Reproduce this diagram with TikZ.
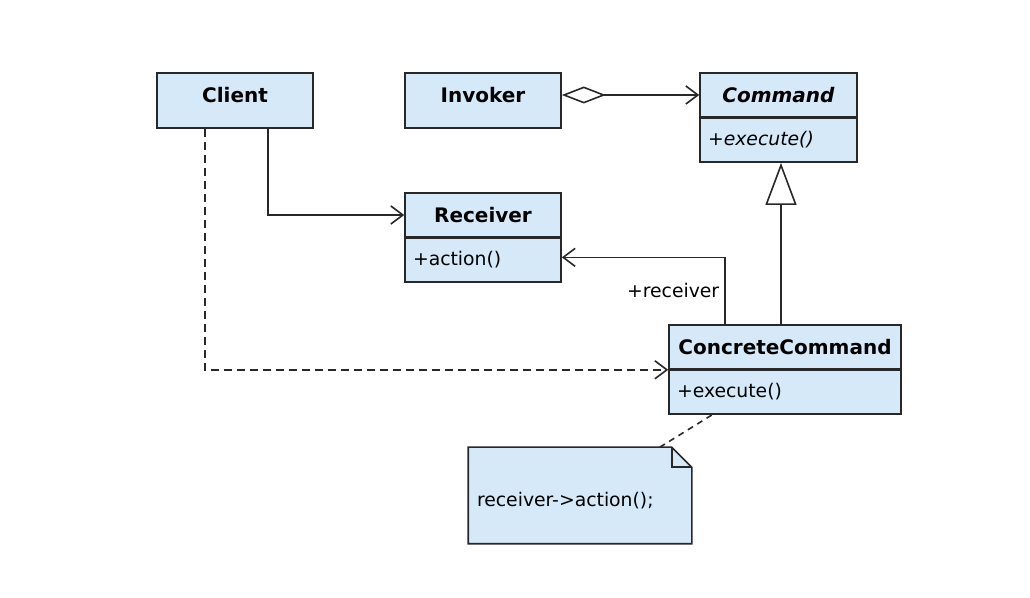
\documentclass[tikz,border=0pt]{standalone}
\usepackage{fontspec}
\setmainfont{DejaVu Sans}
\usetikzlibrary{arrows.meta}
\definecolor{boxfill}{RGB}{214,233,249}
\definecolor{linecol}{RGB}{40,40,40}
\begin{document}
\begin{tikzpicture}[x=.5pt,y=-.5pt,line width=.8pt,
  every node/.style={inner sep=0pt,font=\fontsize{9.4}{11}\selectfont},
  box/.style={draw=linecol,fill=boxfill,minimum width=#1},
  head/.style={box=#1,minimum height=22pt,font=\fontsize{10}{12}\selectfont\bfseries},
  single/.style={head=#1,minimum height=27.5pt,text height=8pt,text depth=6.2pt},
  ops/.style={draw=linecol,fill=boxfill,anchor=north,minimum height=21.75pt,text width=#1,
    inner xsep=4pt,align=left,text height=7.5pt,text depth=2pt},
  assoc/.style={draw=linecol,-{Straight Barb[length=6pt,width=9pt]}},
  aggr/.style={draw=linecol,{Diamond[open,length=22pt,width=8.5pt]}-{Straight Barb[length=6pt,width=9pt]}},
  inherit/.style={draw=linecol,-{Triangle[open,length=21pt,width=15.5pt,fill=white]}}]
  \useasboundingbox (0,0) rectangle (1030,598);
  \node[single=78pt] (client) at (235,100.5) {Client};
  \node[single=78pt] (invoker) at (483,100.5) {Invoker};
  \node[head=78.5pt] (cmd) at (778.5,95) {\textit{Command}};
  \node[ops=70.5pt] (cmdop) at (cmd.south) {\textit{+execute()}};
  \node[head=78pt] (recv) at (483,215) {Receiver};
  \node[ops=70pt] (recvop) at (recv.south) {+action()};
  \node[head=116pt] (concrete) at (785,347) {ConcreteCommand};
  \node[ops=108pt] (concreteop) at (concrete.south) {+execute()};
  \node[fill=boxfill,minimum width=111pt,minimum height=47.5pt,text width=103pt,
    inner xsep=4pt,align=left,text height=11.3pt,text depth=0pt] (note) at (580,495.5) {receiver->action();};
  \fill[white] ([xshift=-10pt]note.north east) -- (note.north east) -- ([yshift=-10pt]note.north east) -- cycle;
  \draw[linecol] (note.south west) -- (note.north west) -- ([xshift=-10pt]note.north east)
    -- ([yshift=-10pt]note.north east) -- (note.south east) -- cycle;
  \draw[linecol] ([xshift=-10pt]note.north east) |- ([yshift=-10pt]note.north east);
  \draw[aggr] (cmd.west -| invoker.east) -- (cmd.west);
  \draw[assoc] ([xshift=16.5pt]client.south) |- (recv.west);
  \draw[assoc,dash pattern=on 4pt off 2.5pt] ([xshift=-15pt]client.south) |- (concrete.south west);
  \draw[assoc] ([xshift=-30pt]concrete.north) |- ([yshift=1.5pt]recvop.east)
    node[pos=.25,left=2.5pt] {+receiver};
  \draw[inherit] ([xshift=-2pt]concrete.north) -- ([xshift=-2pt]concrete.north |- cmdop.south);
  \draw[linecol,dash pattern=on 3pt off 2.5pt] ([xshift=-16pt]note.north east) -- ([xshift=-36.5pt]concreteop.south);
\end{tikzpicture}
\end{document}
